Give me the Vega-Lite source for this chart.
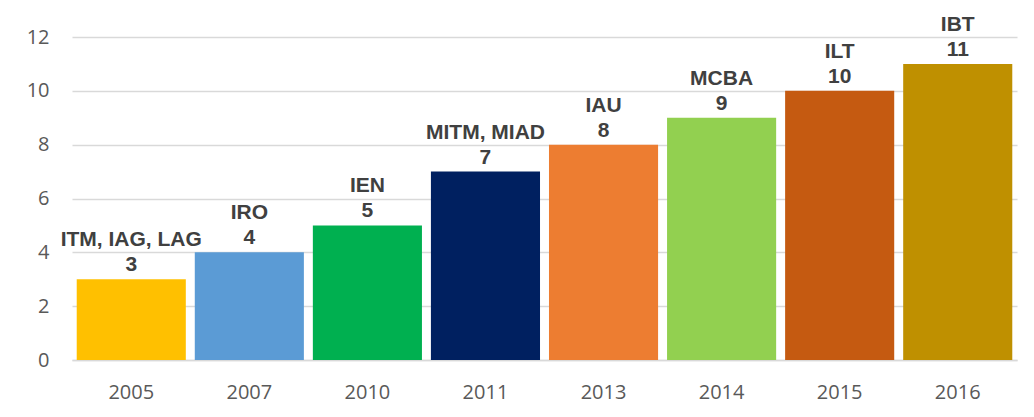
{
  "$schema": "https://vega.github.io/schema/vega-lite/v6.json",
  "width": 945,
  "height": 323,
  "autosize": {"type": "none"},
  "padding": {"left": 72, "top": 37, "right": 17, "bottom": 57},
  "background": "white",
  "config": {"view": {"stroke": null}},
  "data": {
    "values": [
      {"year": "2005", "count": 3, "programs": "ITM, IAG, LAG", "color": "#FFC000"},
      {"year": "2007", "count": 4, "programs": "IRO", "color": "#5B9BD5"},
      {"year": "2010", "count": 5, "programs": "IEN", "color": "#00B050"},
      {"year": "2011", "count": 7, "programs": "MITM, MIAD", "color": "#002060"},
      {"year": "2013", "count": 8, "programs": "IAU", "color": "#ED7D31"},
      {"year": "2014", "count": 9, "programs": "MCBA", "color": "#92D050"},
      {"year": "2015", "count": 10, "programs": "ILT", "color": "#C55A11"},
      {"year": "2016", "count": 11, "programs": "IBT", "color": "#BF9000"}
    ]
  },
  "encoding": {
    "x": {
      "field": "year", "type": "nominal", "sort": null,
      "scale": {"paddingInner": 0.076, "paddingOuter": 0.04},
      "axis": {
        "title": null, "labelAngle": 0, "ticks": false, "domain": true,
        "domainColor": "#D9D9D9", "domainWidth": 1.5,
        "labelFont": "Open Sans", "labelFontSize": 20, "labelColor": "#595959",
        "labelPadding": 22
      }
    },
    "y": {
      "field": "count", "type": "quantitative",
      "scale": {"domain": [0, 12]},
      "axis": {
        "title": null, "values": [0, 2, 4, 6, 8, 10, 12], "ticks": false, "domain": false,
        "grid": true, "gridColor": "#D9D9D9", "gridWidth": 1.5,
        "labelFont": "Open Sans", "labelFontSize": 20, "labelColor": "#595959",
        "labelPadding": 23
      }
    }
  },
  "layer": [
    {
      "mark": {"type": "bar"},
      "encoding": {
        "color": {"field": "color", "type": "nominal", "scale": null, "legend": null}
      }
    },
    {
      "mark": {"type": "text", "font": "Liberation Sans", "fontWeight": "bold", "fontSize": 21, "color": "#404040", "baseline": "alphabetic", "dy": -8},
      "encoding": {"text": {"field": "count", "type": "quantitative"}}
    },
    {
      "mark": {"type": "text", "font": "Liberation Sans", "fontWeight": "bold", "fontSize": 21, "color": "#404040", "baseline": "alphabetic", "dy": -33},
      "encoding": {"text": {"field": "programs", "type": "nominal"}}
    }
  ]
}
